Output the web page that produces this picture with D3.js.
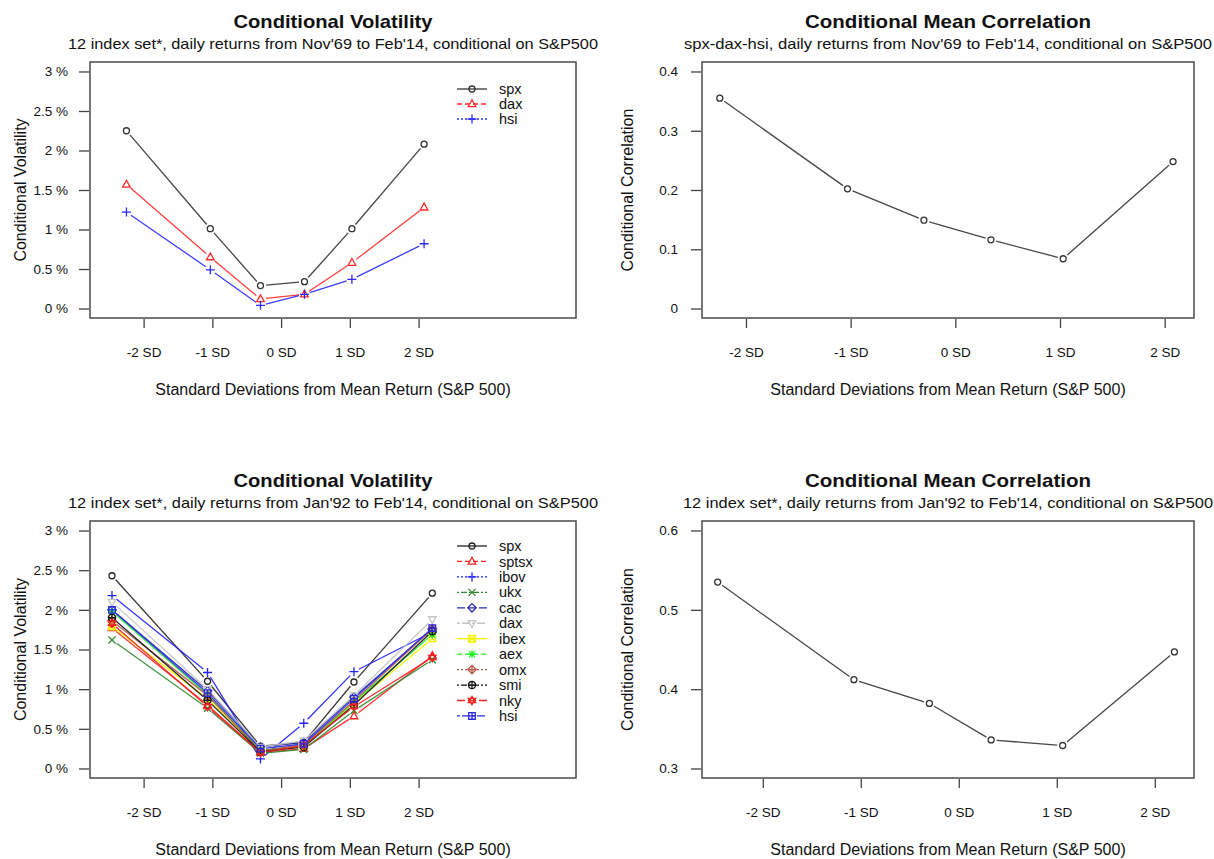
<!DOCTYPE html>
<html><head><meta charset="utf-8">
<script src="https://cdn.jsdelivr.net/npm/d3@7"></script>
<style>
body{margin:0;background:#fff}
svg{display:block}
text{font-family:"Liberation Sans",Arial,Helvetica,sans-serif;fill:#111}
</style>
</head><body>
<svg id="chart" width="1214" height="859"></svg>
<script>
// ---------------- data ----------------
const sdTicks = [-2, -1, 0, 1, 2];
const sdTickLabels = ["-2 SD", "-1 SD", "0 SD", "1 SD", "2 SD"];

// bucket centres (in SD units) used on the x axis
const xTop = [-2.25, -1.03, -0.30, 0.34, 1.03, 2.08];
const xBottom = [-2.46, -1.07, -0.30, 0.33, 1.06, 2.20];

const volTicks = [0, 0.5, 1, 1.5, 2, 2.5, 3];
const volTickLabels = ["0 %", "0.5 %", "1 %", "1.5 %", "2 %", "2.5 %", "3 %"];
const corrTicksTop = [0, 0.1, 0.2, 0.3, 0.4];
const corrTickLabelsTop = ["0", "0.1", "0.2", "0.3", "0.4"];
const corrTicksBottom = [0.3, 0.4, 0.5, 0.6];
const corrTickLabelsBottom = ["0.3", "0.4", "0.5", "0.6"];

// top-left: conditional volatility (%), Nov'69 - Feb'14
const topNames = ["spx", "dax", "hsi"];
const topSpx = [2.25, 1.01, 0.29, 0.34, 1.01, 2.08];
const topDax = [1.57, 0.65, 0.12, 0.18, 0.58, 1.28];
const topHsi = [1.22, 0.49, 0.04, 0.18, 0.37, 0.82];

// top-right: conditional mean correlation spx-dax-hsi
const topCorr = [0.355, 0.202, 0.149, 0.116, 0.084, 0.248];

// bottom-left: conditional volatility (%), Jan'92 - Feb'14
const bottomNames = ["spx", "sptsx", "ibov", "ukx", "cac", "dax", "ibex", "aex", "omx", "smi", "nky", "hsi"];
const bSpx   = [2.43, 1.10, 0.28, 0.33, 1.09, 2.21];
const bSptsx = [1.77, 0.80, 0.20, 0.25, 0.66, 1.42];
const bIbov  = [2.18, 1.21, 0.12, 0.57, 1.22, 1.72];
const bUkx   = [1.62, 0.76, 0.19, 0.24, 0.73, 1.37];
const bCac   = [2.00, 0.98, 0.27, 0.33, 0.90, 1.76];
const bDax   = [2.10, 1.00, 0.27, 0.35, 0.92, 1.88];
const bIbex  = [1.79, 0.88, 0.22, 0.28, 0.82, 1.64];
const bAex   = [1.98, 0.93, 0.23, 0.28, 0.84, 1.69];
const bOmx   = [1.86, 0.92, 0.22, 0.30, 0.85, 1.76];
const bSmi   = [1.90, 0.86, 0.21, 0.27, 0.80, 1.73];
const bNky   = [1.83, 0.78, 0.20, 0.29, 0.78, 1.40];
const bHsi   = [2.00, 0.95, 0.25, 0.31, 0.88, 1.77];

// bottom-right: conditional mean correlation, 12 index set
const bottomCorr = [0.535, 0.412, 0.382, 0.336, 0.329, 0.447];

// ---------------- styles ----------------
const colorOf = {
  spx: "#222222", sptsx: "#ff2020", ibov: "#2020ff", ukx: "#2e8b2e",
  cac: "#2a2ab0", dax: "#c4c4c4", ibex: "#f2f200", aex: "#22ee22",
  omx: "#b8574a", smi: "#111111", nky: "#ee2222", hsi: "#2a2ae0"
};
const topColors = ["#333333", "#ff2a2a", "#2a2aff"];
const dashes = ["", "5,3", "2,2", "2,2,6,2", "8,3", "3,2,8,2"];

const svg = d3.select("#chart");
const FONT = '"Liberation Sans",Arial,Helvetica,sans-serif';

function markerPath(pch) {
  const c = d3.path();
  const circ = (r) => { c.moveTo(r, 0); c.arc(0, 0, r, 0, 2 * Math.PI); };
  switch (pch) {
    case 1: circ(3); break;
    case 2: c.moveTo(0, -4.2); c.lineTo(3.8, 2.6); c.lineTo(-3.8, 2.6); c.closePath(); break;
    case 3: c.moveTo(-4.5, 0); c.lineTo(4.5, 0); c.moveTo(0, -4.5); c.lineTo(0, 4.5); break;
    case 4: c.moveTo(-3.5, -3.5); c.lineTo(3.5, 3.5); c.moveTo(-3.5, 3.5); c.lineTo(3.5, -3.5); break;
    case 5: c.moveTo(0, -4.2); c.lineTo(4.2, 0); c.lineTo(0, 4.2); c.lineTo(-4.2, 0); c.closePath(); break;
    case 6: c.moveTo(0, 4.2); c.lineTo(3.8, -2.6); c.lineTo(-3.8, -2.6); c.closePath(); break;
    case 7: c.rect(-3.3, -3.3, 6.6, 6.6); c.moveTo(-3.3, -3.3); c.lineTo(3.3, 3.3); c.moveTo(-3.3, 3.3); c.lineTo(3.3, -3.3); break;
    case 8: c.moveTo(-4, 0); c.lineTo(4, 0); c.moveTo(0, -4); c.lineTo(0, 4);
            c.moveTo(-3, -3); c.lineTo(3, 3); c.moveTo(-3, 3); c.lineTo(3, -3); break;
    case 9: c.moveTo(0, -4.2); c.lineTo(4.2, 0); c.lineTo(0, 4.2); c.lineTo(-4.2, 0); c.closePath();
            c.moveTo(-4.2, 0); c.lineTo(4.2, 0); c.moveTo(0, -4.2); c.lineTo(0, 4.2); break;
    case 10: circ(3.6); c.moveTo(-3.6, 0); c.lineTo(3.6, 0); c.moveTo(0, -3.6); c.lineTo(0, 3.6); break;
    case 11: c.moveTo(0, -4.2); c.lineTo(3.7, 2.1); c.lineTo(-3.7, 2.1); c.closePath();
             c.moveTo(0, 4.2); c.lineTo(3.7, -2.1); c.lineTo(-3.7, -2.1); c.closePath(); break;
    default: c.rect(-3.3, -3.3, 6.6, 6.6); c.moveTo(-3.3, 0); c.lineTo(3.3, 0); c.moveTo(0, -3.3); c.lineTo(0, 3.3);
  }
  return c.toString();
}

function drawPanel(o) {
  const g = svg.append("g");
  const b = o.box;
  const xs = d3.scaleLinear().domain(o.xDomain).range([b.x0, b.x1]);
  const ys = d3.scaleLinear().domain(o.yDomain).range([b.y1, b.y0]);

  // titles
  const cx = (b.x0 + b.x1) / 2;
  g.append("text").attr("x", cx).attr("y", b.y0 - 34).attr("text-anchor", "middle")
    .attr("font-size", 19).attr("font-weight", "bold")
    .attr("textLength", o.titleW).attr("lengthAdjust", "spacingAndGlyphs").text(o.title);
  g.append("text").attr("x", cx).attr("y", b.y0 - 13).attr("text-anchor", "middle")
    .attr("font-size", 15).attr("textLength", o.subW).attr("lengthAdjust", "spacingAndGlyphs")
    .text(o.subtitle);

  // x axis
  const xa = g.append("g").attr("transform", `translate(0,${b.y1 + 1})`)
    .call(d3.axisBottom(xs).tickValues(sdTicks).tickFormat((d, i) => sdTickLabels[i])
      .tickSize(9).tickSizeOuter(0).tickPadding(19));
  xa.select(".domain").remove();
  xa.selectAll("line").attr("stroke", "#444").attr("stroke-width", 1.3);
  xa.selectAll("text").attr("font-size", 13.5).attr("font-family", FONT).attr("fill", "#222");

  // y axis
  const ya = g.append("g").attr("transform", `translate(${b.x0 - 1},0)`)
    .call(d3.axisLeft(ys).tickValues(o.yTicks).tickFormat((d, i) => o.yTickLabels[i])
      .tickSize(10).tickSizeOuter(0).tickPadding(o.yPad));
  ya.select(".domain").remove();
  ya.selectAll("line").attr("stroke", "#444").attr("stroke-width", 1.3);
  ya.selectAll("text").attr("font-size", 13.5).attr("font-family", FONT).attr("fill", "#222");

  // axis titles
  g.append("text").attr("x", cx).attr("y", b.y1 + 77).attr("text-anchor", "middle")
    .attr("font-size", 16).attr("fill", "#222").text("Standard Deviations from Mean Return (S&P 500)");
  g.append("text").attr("transform", `translate(${o.yTitleX},${(b.y0 + b.y1) / 2}) rotate(-90)`)
    .attr("text-anchor", "middle").attr("font-size", 16).attr("fill", "#222").text(o.yTitle);

  // lines (type "b": segments with gaps around points) + markers
  const gap = 5.5;
  o.series.forEach(s => {
    const pts = s.values.map((v, i) => [xs(o.x[i]), ys(v)]);
    const segs = [];
    for (let i = 0; i < pts.length - 1; i++) {
      const [x1, y1] = pts[i], [x2, y2] = pts[i + 1];
      const d = Math.hypot(x2 - x1, y2 - y1);
      if (d <= 2 * gap) continue;
      const ux = (x2 - x1) / d, uy = (y2 - y1) / d;
      segs.push([[x1 + ux * gap, y1 + uy * gap], [x2 - ux * gap, y2 - uy * gap]]);
    }
    g.append("g").selectAll("line").data(segs).join("line")
      .attr("x1", d => d[0][0]).attr("y1", d => d[0][1])
      .attr("x2", d => d[1][0]).attr("y2", d => d[1][1])
      .attr("stroke", s.color).attr("stroke-width", 1.3).attr("opacity", 0.9);
    g.append("g").selectAll("path").data(pts).join("path")
      .attr("transform", d => `translate(${d[0]},${d[1]})`)
      .attr("d", markerPath(s.pch)).attr("fill", "none")
      .attr("stroke", s.color).attr("stroke-width", 1.3);
  });

  // box
  g.append("rect").attr("x", b.x0).attr("y", b.y0).attr("width", b.x1 - b.x0).attr("height", b.y1 - b.y0)
    .attr("fill", "none").attr("stroke", "#555").attr("stroke-width", 1.6);

  // legend
  if (o.legend) {
    const L = o.legend;
    o.series.forEach((s, i) => {
      const y = L.y0 + i * L.step;
      const lg = g.append("g");
      lg.append("line").attr("x1", L.x0).attr("x2", L.x1).attr("y1", y).attr("y2", y)
        .attr("stroke", s.color).attr("stroke-width", 1.3).attr("stroke-dasharray", s.dash);
      lg.append("path").attr("transform", `translate(${(L.x0 + L.x1) / 2},${y})`)
        .attr("d", markerPath(s.pch)).attr("fill", "none").attr("stroke", s.color).attr("stroke-width", 1.3);
      lg.append("text").attr("x", L.tx).attr("y", y).attr("dy", "0.35em")
        .attr("font-size", 14.5).attr("fill", "#222").text(s.name);
    });
  }
}

const leftDomain = [-2.78, 4.29];

// top-left
const topVals = [topSpx, topDax, topHsi];
drawPanel({
  box: { x0: 90, x1: 576, y0: 62, y1: 318 },
  xDomain: leftDomain, yDomain: [-0.12, 3.12], x: xTop,
  yTicks: volTicks, yTickLabels: volTickLabels, yPad: 11,
  title: "Conditional Volatility", titleW: 199,
  subtitle: "12 index set*, daily returns from Nov'69 to Feb'14, conditional on S&P500", subW: 530,
  yTitle: "Conditional Volatility", yTitleX: 26,
  series: topNames.map((n, i) => ({ name: n, values: topVals[i], color: topColors[i], pch: i + 1, dash: dashes[i] })),
  legend: { x0: 457, x1: 487, tx: 499, y0: 89, step: 15 }
});

// top-right
drawPanel({
  box: { x0: 702, x1: 1194, y0: 62, y1: 318 },
  xDomain: [-2.42, 2.28], yDomain: [-0.016, 0.416], x: xTop,
  yTicks: corrTicksTop, yTickLabels: corrTickLabelsTop, yPad: 13,
  title: "Conditional Mean Correlation", titleW: 286,
  subtitle: "spx-dax-hsi, daily returns from Nov'69 to Feb'14, conditional on S&P500", subW: 528,
  yTitle: "Conditional Correlation", yTitleX: 633,
  series: [{ name: "corr", values: topCorr, color: "#333", pch: 1, dash: "" }]
});

// bottom-left
const bottomVals = [bSpx, bSptsx, bIbov, bUkx, bCac, bDax, bIbex, bAex, bOmx, bSmi, bNky, bHsi];
drawPanel({
  box: { x0: 90, x1: 576, y0: 521, y1: 778 },
  xDomain: leftDomain, yDomain: [-0.12, 3.12], x: xBottom,
  yTicks: volTicks, yTickLabels: volTickLabels, yPad: 11,
  title: "Conditional Volatility", titleW: 199,
  subtitle: "12 index set*, daily returns from Jan'92 to Feb'14, conditional on S&P500", subW: 530,
  yTitle: "Conditional Volatility", yTitleX: 26,
  series: bottomNames.map((n, i) => ({ name: n, values: bottomVals[i], color: colorOf[n], pch: i + 1, dash: dashes[i % 6] })),
  legend: { x0: 457, x1: 487, tx: 499, y0: 546, step: 15.45 }
});

// bottom-right
drawPanel({
  box: { x0: 702, x1: 1194, y0: 521, y1: 778 },
  xDomain: [-2.62, 2.40], yDomain: [0.288, 0.612], x: xBottom,
  yTicks: corrTicksBottom, yTickLabels: corrTickLabelsBottom, yPad: 13,
  title: "Conditional Mean Correlation", titleW: 286,
  subtitle: "12 index set*, daily returns from Jan'92 to Feb'14, conditional on S&P500", subW: 530,
  yTitle: "Conditional Correlation", yTitleX: 633,
  series: [{ name: "corr", values: bottomCorr, color: "#333", pch: 1, dash: "" }]
});
</script>
</body></html>
